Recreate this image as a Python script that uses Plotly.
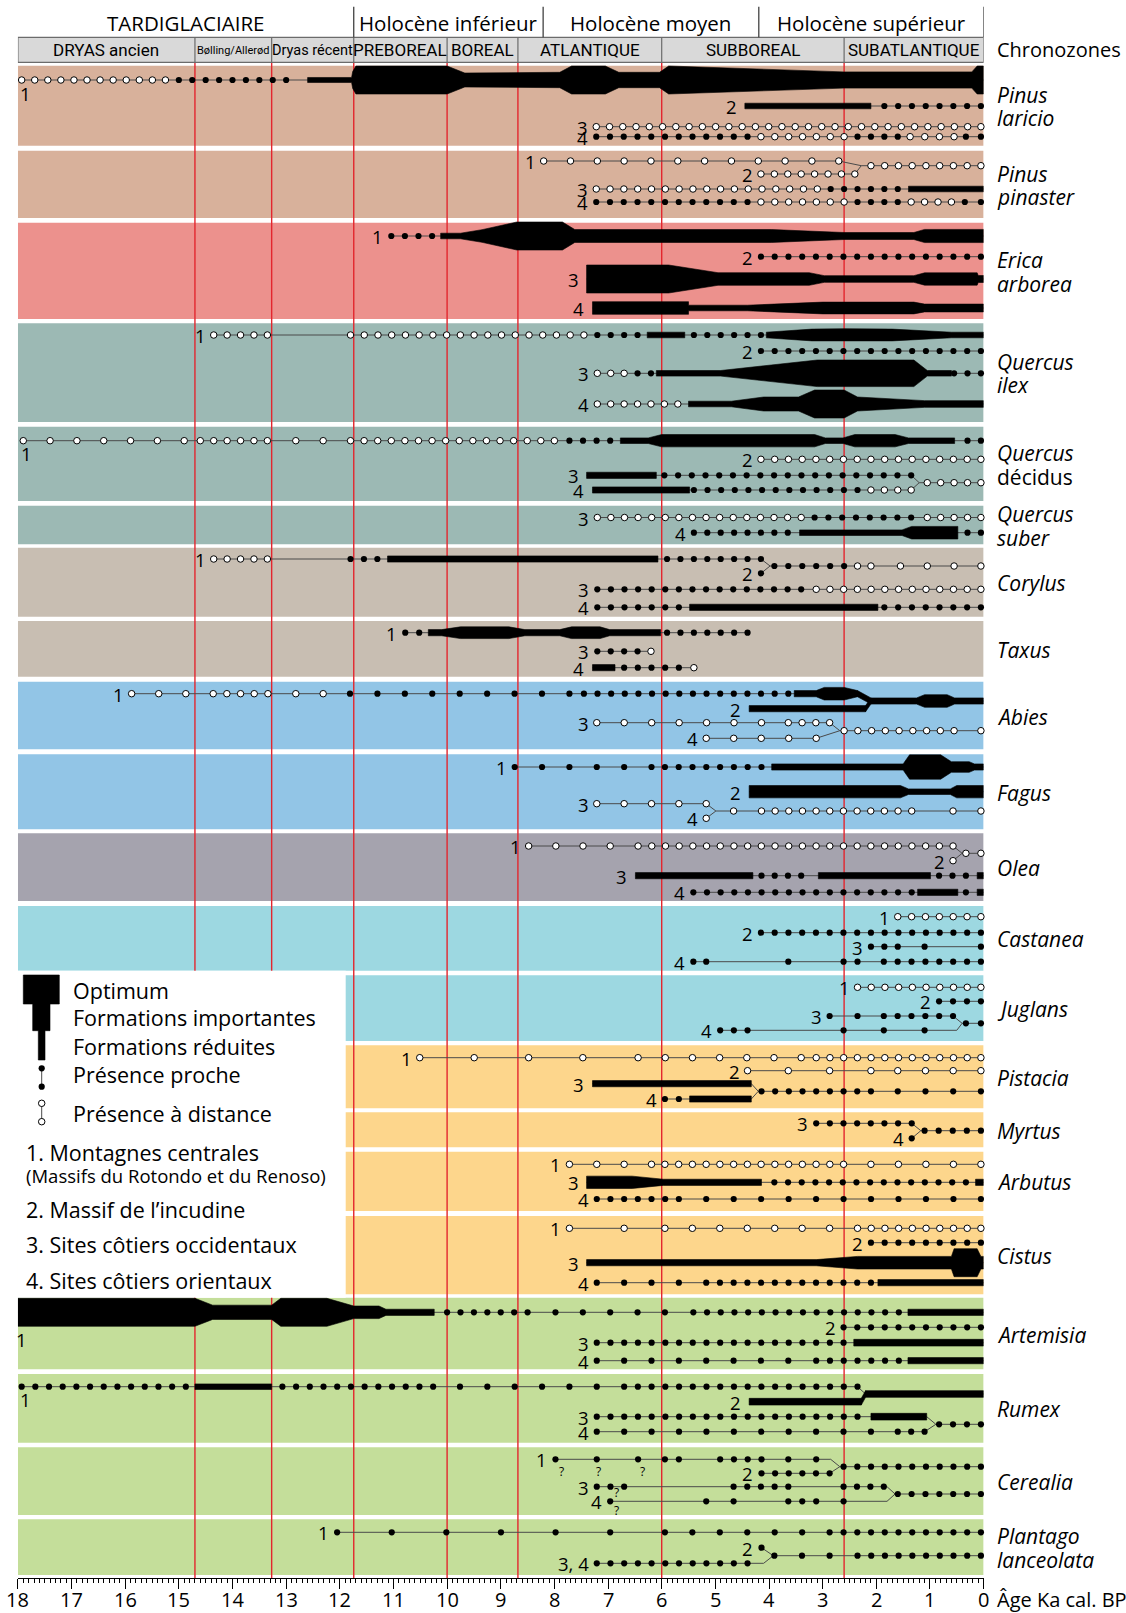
import numpy as np
import plotly.graph_objects as go

# ---------------- chronology (ka cal BP) ----------------
PERIOD_NAMES = ["TARDIGLACIAIRE", "Holocène inférieur", "Holocène moyen", "Holocène supérieur"]
PERIOD_BOUNDS = [18.0, 11.74, 8.21, 4.19, 0.0]
CHRONO_NAMES = ["DRYAS ancien", "Bølling/Allerød", "Dryas récent", "PREBOREAL",
                "BOREAL", "ATLANTIQUE", "SUBBOREAL", "SUBATLANTIQUE"]
CHRONO_BOUNDS = [18.0, 14.7, 13.27, 11.74, 10.0, 8.68, 6.0, 2.6, 0.0]
RED_LINES = [14.7, 13.27, 11.74, 10.0, 8.68, 6.0, 2.6]
AXIS_TICKS = list(range(18, -1, -1))

# ---------------- taxa data ----------------
# elements: ("o", from, to[, step]) presence a distance ; ("d", ...) presence proche
#           ("b", [(ka, abundance 0-10), ...]) formations (reduced .. optimum)
# merges:   (from_track, ka_from, to_track, ka_to, abundance of the link, 0 = thin)
PINUS_LARICIO = [
    ("1", "1", [("o", 17.93, 15.25), ("d", 15.0, 13.0),
                ("b", [(12.6, 1.8), (11.78, 1.8), (11.76, 6), (11.7, 10), (10.0, 10), (9.67, 5),
                       (7.9, 5.5), (7.68, 10), (7.05, 10), (6.8, 5.5), (6.04, 5.5), (5.87, 10),
                       (2.6, 5.8), (0.22, 5.8), (0.12, 10), (0.0, 10)])]),
    ("2", "2", [("b", [(4.45, 2), (2.1, 2)]), ("d", 1.85, 0.05)]),
    ("3", "3", [("o", 7.22, 0.05)]),
    ("4", "4", [("d", 7.22, 4.4), ("o", 4.15, 2.6), ("d", 2.35, 1.6), ("o", 1.37, 0.55), ("d", 0.33, 0.05)]),
]
PINUS_LARICIO_MERGES = []

PINUS_PINASTER = [
    ("1", "1", [("o", 8.2, 2.7, 0.5)]),
    ("2", "2", [("o", 4.15, 2.4)]),
    (None, "12", [("o", 2.1, 0.05)]),
    ("3", "3", [("o", 7.22, 3.1), ("d", 2.85, 1.6), ("b", [(1.4, 2), (0.0, 2)])]),
    ("4", "4", [("d", 7.22, 4.4), ("o", 4.15, 2.6), ("d", 2.35, 1.6), ("o", 1.35, 0.6), ("d", 0.35, 0.05)]),
]
PINUS_PINASTER_MERGES = [("1", 2.7, "12", 2.28, 0), ("2", 2.4, "12", 2.28, 0)]

ERICA = [
    ("1", "1", [("d", 11.04, 10.28),
                ("b", [(10.12, 2), (9.75, 2), (9.35, 4.5), (8.7, 10), (7.85, 10), (7.62, 4.6),
                       (3.95, 4.6), (2.6, 2.5), (1.3, 2.5), (1.1, 4.7), (0.0, 4.7)])]),
    ("2", "2", [("d", 4.15, 0.05)]),
    ("3", "3", [("b", [(7.4, 10), (5.87, 10), (4.95, 4.5), (3.25, 4.5), (2.97, 2.4), (1.3, 2.4),
                       (1.1, 4.4), (0.12, 4.4), (0.1, 2.5), (0.0, 2.5)])]),
    ("4", "4", [("b", [(7.29, 4.5), (5.5, 4.5), (5.5, 2), (4.4, 2), (3.0, 4.2), (1.3, 4.2),
                       (1.1, 2.8), (0.0, 2.8)])]),
]
ERICA_MERGES = []

QUERCUS_ILEX = [
    ("1", "1", [("o", 14.35, 13.35), ("o", 11.8, 7.45), ("d", 7.2, 6.45), ("b", [(6.27, 2), (5.57, 2)]),
                ("d", 5.4, 4.15),
                ("b", [(4.05, 2), (3.2, 4.2), (2.6, 4.5), (1.7, 4.2), (0.6, 2), (0.0, 2)])]),
    ("2", "2", [("d", 4.15, 0.05)]),
    ("3", "3", [("o", 7.2, 6.7), ("d", 6.45, 6.2),
                ("b", [(6.1, 2), (4.9, 2), (3.1, 9.5), (1.3, 9.5), (1.05, 2), (0.6, 2)]),
                ("d", 0.55, 0.05)]),
    ("4", "4", [("o", 7.2, 5.7),
                ("b", [(5.5, 2), (4.7, 2), (4.1, 5), (3.45, 5), (3.15, 10), (2.6, 10), (2.35, 5),
                       (1.1, 2.4), (0.0, 2.4)])]),
]
QUERCUS_ILEX_MERGES = []

QUERCUS_DECIDUS = [
    ("1", "1", [("o", 17.9, 14.9, 0.5), ("o", 14.6, 13.35), ("o", 12.82, 12.31, 0.51), ("o", 11.8, 8.0),
                ("d", 7.72, 6.96),
                ("b", [(6.77, 2), (6.25, 2), (6.0, 4.4), (3.15, 4.4), (2.95, 2), (2.62, 2), (2.4, 4.4),
                       (1.65, 4.4), (1.4, 2), (0.54, 2)]),
                ("d", 0.3, 0.05)]),
    ("2", "2", [("o", 4.15, 0.05)]),
    ("3", "3", [("b", [(7.4, 2.2), (6.1, 2.2)]), ("d", 5.95, 1.35)]),
    ("4", "4", [("b", [(7.29, 2.2), (5.48, 2.2)]), ("d", 5.4, 2.35), ("o", 2.1, 1.35)]),
    (None, "34", [("o", 1.05, 0.05)]),
]
QUERCUS_DECIDUS_MERGES = [("3", 1.35, "34", 1.2, 0), ("4", 1.35, "34", 1.2, 0)]

QUERCUS_SUBER = [
    ("3", "3", [("o", 7.2, 3.4), ("d", 3.15, 1.35), ("o", 1.05, 0.05)]),
    ("4", "4", [("d", 5.4, 3.65), ("b", [(3.43, 2), (1.52, 2), (1.34, 4.5), (0.48, 4.5)]), ("d", 0.3, 0.05)]),
]
QUERCUS_SUBER_MERGES = []

CORYLUS = [
    ("1", "1", [("o", 14.35, 13.35), ("d", 11.8, 11.3), ("b", [(11.11, 2.2), (6.07, 2.2)]), ("d", 5.9, 4.15)]),
    ("2", "2", [("d", 4.15, 4.15)]),
    (None, "12", [("d", 3.9, 2.6), ("o", 2.35, 2.1), ("o", 1.55, 0.05, 0.5)]),
    ("3", "3", [("d", 7.2, 3.4), ("o", 3.12, 0.05)]),
    ("4", "4", [("d", 7.2, 5.68), ("b", [(5.48, 2.2), (1.97, 2.2)]), ("d", 1.85, 0.05)]),
]
CORYLUS_MERGES = [("1", 4.15, "12", 3.98, 0), ("2", 4.15, "12", 3.98, 0)]

TAXUS = [
    ("1", "1", [("d", 10.78, 10.52),
                ("b", [(10.35, 2.2), (10.1, 2.2), (9.75, 4.2), (8.85, 4.2), (8.55, 2.2), (7.9, 2.2),
                       (7.68, 4.2), (7.15, 4.2), (6.97, 2.2), (6.02, 2.2)]),
                ("d", 5.9, 4.4)]),
    ("3", "3", [("d", 7.2, 6.45), ("o", 6.2, 6.2)]),
    ("4", "4", [("b", [(7.29, 2.2), (6.87, 2.2)]), ("d", 6.7, 5.68), ("o", 5.4, 5.4)]),
]
TAXUS_MERGES = []

ABIES = [
    ("1", "1", [("o", 15.88, 14.87, 0.5), ("o", 14.36, 13.34), ("o", 12.82, 12.31, 0.51),
                ("d", 11.81, 7.72, 0.51), ("d", 7.45, 3.64),
                ("b", [(3.53, 2.2), (3.12, 2.2), (2.97, 4.5), (2.6, 4.5), (2.35, 2.2)])]),
    ("2", "2", [("b", [(4.37, 2.2), (2.2, 2.2)])]),
    (None, "12", [("b", [(2.1, 2.2), (1.25, 2.2), (1.1, 4.5), (0.68, 4.5), (0.54, 2.2), (0.0, 2.2)])]),
    ("3", "3", [("o", 7.21, 4.14, 0.51), ("o", 3.64, 2.87)]),
    ("4", "4", [("o", 5.17, 3.12, 0.51)]),
    (None, "34", [("o", 2.6, 0.55), ("o", 0.05, 0.05)]),
]
ABIES_MERGES = [("1", 2.35, "12", 2.1, 2.2), ("2", 2.2, "12", 2.1, 2.2),
                ("3", 2.87, "34", 2.68, 0), ("4", 3.12, "34", 2.68, 0)]

FAGUS = [
    ("1", "1", [("d", 8.74, 6.19, 0.51), ("d", 5.94, 4.14),
                ("b", [(3.95, 2.2), (1.5, 2.2), (1.38, 8.7), (0.8, 8.7), (0.6, 3.8), (0.27, 3.8),
                       (0.17, 2.2), (0.0, 2.2)])]),
    ("2", "2", [("b", [(4.37, 4.4), (1.55, 4.4), (1.4, 2), (0.62, 2), (0.5, 4.4), (0.0, 4.4)])]),
    ("3", "3", [("o", 7.21, 5.17, 0.51)]),
    ("4", "4", [("o", 5.17, 5.17)]),
    (None, "34", [("o", 4.66, 4.66), ("o", 4.14, 1.34), ("o", 0.57, 0.05, 0.52)]),
]
FAGUS_MERGES = [("3", 5.17, "34", 4.99, 0), ("4", 5.17, "34", 4.99, 0)]

OLEA = [
    ("1", "1", [("o", 8.48, 6.96, 0.5), ("o", 6.44, 0.57)]),
    ("2", "2", [("o", 0.57, 0.57)]),
    (None, "12", [("o", 0.33, 0.05)]),
    ("3", "3", [("b", [(6.49, 2.2), (4.3, 2.2)]), ("d", 4.14, 3.4), ("b", [(3.08, 2.2), (0.99, 2.2)]),
                ("d", 0.83, 0.33), ("b", [(0.12, 2.2), (0.0, 2.2)])]),
    ("4", "4", [("d", 5.41, 1.34), ("b", [(1.23, 2.2), (0.48, 2.2)]), ("d", 0.33, 0.33),
                ("b", [(0.12, 2.2), (0.0, 2.2)])]),
]
OLEA_MERGES = [("1", 0.57, "12", 0.4, 0), ("2", 0.57, "12", 0.4, 0)]

CASTANEA = [
    ("1", "1", [("o", 1.6, 0.05)]),
    ("2", "2", [("d", 4.15, 0.05)]),
    ("3", "3", [("d", 2.1, 1.6), ("d", 1.1, 1.1), ("d", 0.05, 0.05)]),
    ("4", "4", [("d", 5.41, 5.17), ("d", 3.64, 3.64), ("d", 2.61, 2.35), ("d", 1.86, 0.05)]),
]
CASTANEA_MERGES = []

JUGLANS = [
    ("1", "1", [("o", 2.35, 0.05)]),
    ("2", "2", [("d", 0.83, 0.05)]),
    ("3", "3", [("d", 2.87, 2.87), ("d", 2.35, 2.35), ("d", 1.86, 0.57)]),
    ("4", "4", [("d", 4.91, 4.4), ("d", 2.61, 2.61), ("d", 1.86, 1.86), ("d", 1.1, 1.1)]),
    (None, "34", [("d", 0.33, 0.05)]),
]
JUGLANS_MERGES = [("3", 0.57, "34", 0.4, 0), ("4", 0.5, "34", 0.4, 0)]

PISTACIA = [
    ("1", "1", [("o", 10.51, 8.48, 1.0), ("o", 7.47, 7.47), ("o", 6.44, 3.4, 0.5), ("o", 3.12, 0.05)]),
    ("2", "2", [("o", 4.4, 4.4), ("o", 3.64, 2.1, 0.77), ("o", 1.6, 0.05, 0.52)]),
    ("3", "3", [("b", [(7.29, 2.2), (4.33, 2.2)])]),
    ("4", "4", [("d", 5.94, 5.68), ("b", [(5.48, 2.2), (4.33, 2.2)])]),
    (None, "34", [("d", 4.14, 2.1), ("d", 1.6, 0.05, 0.52)]),
]
PISTACIA_MERGES = [("3", 4.33, "34", 4.2, 0), ("4", 4.33, "34", 4.2, 0)]

MYRTUS = [
    ("3", "3", [("d", 3.12, 1.34)]),
    ("4", "4", [("d", 1.34, 1.34)]),
    (None, "34", [("d", 1.1, 0.05)]),
]
MYRTUS_MERGES = [("3", 1.34, "34", 1.17, 0), ("4", 1.34, "34", 1.17, 0)]

ARBUTUS = [
    ("1", "1", [("o", 7.72, 6.19, 0.51), ("o", 5.94, 2.61), ("o", 2.1, 0.05, 0.51)]),
    ("3", "3", [("b", [(7.4, 4.4), (6.55, 4.4), (5.97, 2.2), (4.14, 2.2)]), ("d", 3.9, 0.33),
                ("b", [(0.15, 2.2), (0.0, 2.2)])]),
    ("4", "4", [("d", 7.21, 5.68), ("d", 5.17, 0.05, 0.512)]),
]
ARBUTUS_MERGES = []

CISTUS = [
    ("1", "1", [("o", 7.72, 7.72), ("o", 6.7, 6.7), ("o", 5.94, 2.87, 0.51), ("o", 2.35, 0.05)]),
    ("2", "2", [("d", 2.1, 0.05)]),
    ("3", "3", [("b", [(7.4, 2.2), (3.12, 2.2), (2.35, 4.5), (0.6, 4.5), (0.55, 10), (0.12, 10),
                       (0.05, 4.5), (0.0, 4.5)])]),
    ("4", "4", [("d", 7.21, 5.68, 0.51), ("d", 5.17, 2.1), ("b", [(1.97, 2.2), (0.0, 2.2)])]),
]
CISTUS_MERGES = []

ARTEMISIA = [
    ("1", "1", [("b", [(18.0, 10), (14.7, 10), (14.37, 5.1), (13.27, 5.1), (13.1, 10), (12.24, 10),
                       (11.74, 4.5), (11.27, 4.5), (11.14, 2.2), (10.24, 2.2)]),
                ("d", 10.0, 8.5), ("d", 7.98, 5.94, 0.51), ("d", 5.41, 1.58),
                ("b", [(1.41, 2.2), (0.0, 2.2)])]),
    ("2", "2", [("d", 2.61, 0.05)]),
    ("3", "3", [("d", 7.21, 2.61), ("b", [(2.42, 2.4), (0.0, 2.4)])]),
    ("4", "4", [("d", 7.21, 3.64, 0.51), ("d", 3.12, 1.58), ("b", [(1.41, 2.2), (0.0, 2.2)])]),
]
ARTEMISIA_MERGES = []

RUMEX = [
    ("1", "1", [("d", 17.93, 14.87), ("b", [(14.7, 2), (13.27, 2)]), ("d", 13.07, 10.26),
                ("d", 9.76, 7.21, 0.51), ("d", 6.7, 2.35)]),
    ("2", "2", [("b", [(4.37, 2.4), (2.28, 2.4)])]),
    (None, "12", [("b", [(2.2, 2.4), (0.0, 2.4)])]),
    ("3", "3", [("d", 7.21, 2.35), ("b", [(2.1, 2.4), (1.06, 2.4)])]),
    ("4", "4", [("d", 7.21, 2.1, 0.51), ("d", 1.6, 1.1)]),
    (None, "34", [("d", 0.83, 0.05)]),
]
RUMEX_MERGES = [("1", 2.35, "12", 2.2, 0), ("2", 2.28, "12", 2.2, 2.4),
                ("3", 1.06, "34", 0.89, 0), ("4", 1.1, "34", 0.89, 0)]

CEREALIA = [
    ("1", "1", [("d", 7.98, 7.98), ("d", 7.21, 7.21), ("d", 6.44, 6.44), ("d", 5.94, 5.68),
                ("d", 4.91, 4.14), ("d", 3.64, 3.64), ("d", 3.12, 3.12)]),
    ("2", "2", [("d", 4.14, 2.87)]),
    (None, "12", [("d", 2.61, 0.05)]),
    ("3", "3", [("d", 7.21, 6.7), ("d", 4.66, 3.64), ("d", 2.61, 1.86)]),
    ("4", "4", [("d", 6.96, 6.96), ("d", 5.17, 5.17), ("d", 4.66, 4.66), ("d", 3.64, 3.12), ("d", 2.61, 2.61)]),
    (None, "34", [("d", 1.6, 0.05)]),
]
CEREALIA_MERGES = [("1", 2.85, "12", 2.68, 0), ("2", 2.87, "12", 2.68, 0),
                   ("3", 1.8, "34", 1.65, 0), ("4", 1.8, "34", 1.65, 0)]
CEREALIA_QMARK_KA = [7.86, 7.17, 6.35, 6.84, 6.84]

PLANTAGO = [
    ("1", "1", [("d", 12.05, 6.96, 1.02), ("d", 5.94, 2.87, 0.51), ("d", 2.61, 0.05)]),
    ("2", "2", [("d", 4.14, 4.14)]),
    ("3, 4", "34", [("d", 7.21, 4.4)]),
    (None, "m", [("d", 3.9, 2.87, 0.515), ("d", 2.35, 0.05)]),
]
PLANTAGO_MERGES = [("2", 4.14, "m", 3.92, 0), ("34", 4.1, "m", 3.92, 0)]

TAXA_NAMES = [["<i>Pinus</i>", "<i>laricio</i>"], ["<i>Pinus</i>", "<i>pinaster</i>"],
              ["<i>Erica</i>", "<i>arborea</i>"], ["<i>Quercus</i>", "<i>ilex</i>"],
              ["<i>Quercus</i>", "décidus"], ["<i>Quercus</i>", "<i>suber</i>"], ["<i>Corylus</i>"],
              ["<i>Taxus</i>"], ["<i>Abies</i>"], ["<i>Fagus</i>"], ["<i>Olea</i>"], ["<i>Castanea</i>"],
              ["<i>Juglans</i>"], ["<i>Pistacia</i>"], ["<i>Myrtus</i>"], ["<i>Arbutus</i>"], ["<i>Cistus</i>"],
              ["<i>Artemisia</i>"], ["<i>Rumex</i>"], ["<i>Cerealia</i>"], ["<i>Plantago</i>", "<i>lanceolata</i>"]]
TAXA_TRACKS = [PINUS_LARICIO, PINUS_PINASTER, ERICA, QUERCUS_ILEX, QUERCUS_DECIDUS, QUERCUS_SUBER,
               CORYLUS, TAXUS, ABIES, FAGUS, OLEA, CASTANEA, JUGLANS, PISTACIA, MYRTUS, ARBUTUS,
               CISTUS, ARTEMISIA, RUMEX, CEREALIA, PLANTAGO]
TAXA_MERGES = [PINUS_LARICIO_MERGES, PINUS_PINASTER_MERGES, ERICA_MERGES, QUERCUS_ILEX_MERGES,
               QUERCUS_DECIDUS_MERGES, QUERCUS_SUBER_MERGES, CORYLUS_MERGES, TAXUS_MERGES,
               ABIES_MERGES, FAGUS_MERGES, OLEA_MERGES, CASTANEA_MERGES, JUGLANS_MERGES,
               PISTACIA_MERGES, MYRTUS_MERGES, ARBUTUS_MERGES, CISTUS_MERGES, ARTEMISIA_MERGES,
               RUMEX_MERGES, CEREALIA_MERGES, PLANTAGO_MERGES]

LEGEND_SYMBOLS = ["Optimum", "Formations importantes", "Formations réduites",
                  "Présence proche", "Présence à distance"]
LEGEND_SITES = ["1. Montagnes centrales", "(Massifs du Rotondo et du Renoso)",
                "2. Massif de l\u2019incudine", "3. Sites côtiers occidentaux", "4. Sites côtiers orientaux"]

# ---------------- layout (page pixels) ----------------
W, H = 1126, 1613
X_LEFT_PX, X_RIGHT_PX = 17.9, 983.6
AXIS_Y = 1578.3
PX_PER_KA = (X_RIGHT_PX - X_LEFT_PX) / 18.0
def px2ka(px):
    return (X_RIGHT_PX - px) / PX_PER_KA

BANDS = [(65.7, 145.7), (150.7, 218.0), (222.7, 319.0), (323.3, 422.0), (426.7, 501.0),
         (505.7, 544.3), (547.7, 616.7), (621.0, 676.7), (681.7, 749.3), (754.3, 829.3),
         (833.3, 901.0), (906.0, 970.7), (975.3, 1041.0), (1045.3, 1108.3), (1112.3, 1147.3),
         (1151.7, 1211.0), (1216.0, 1294.3), (1297.8, 1369.3), (1374.0, 1442.7), (1447.3, 1515.0),
         (1519.3, 1575.0)]
SLOTS = [
    {"1": 80, "2": 106, "3": 126.7, "4": 136.7},
    {"1": 161, "2": 174, "12": 165.7, "3": 189, "4": 202},
    {"1": 236, "2": 256.7, "3": 279, "4": 308},
    {"1": 335, "2": 351, "3": 373.3, "4": 404},
    {"1": 440.7, "2": 459.3, "3": 475.3, "4": 490, "34": 482.7},
    {"3": 517.5, "4": 532.7},
    {"1": 559, "2": 573.3, "12": 566, "3": 589.3, "4": 607.3},
    {"1": 632.7, "3": 651.3, "4": 667.7},
    {"1": 693.7, "2": 708.7, "12": 701, "3": 722.7, "4": 738.3, "34": 730.7},
    {"1": 767, "2": 791.7, "3": 803.7, "4": 818.3, "34": 811},
    {"1": 846, "2": 860.7, "12": 853.3, "3": 875.7, "4": 892.3},
    {"1": 916.7, "2": 932.7, "3": 946.7, "4": 961.7},
    {"1": 987.3, "2": 1001.3, "3": 1016, "4": 1030.3, "34": 1023.3},
    {"1": 1057.7, "2": 1070.7, "3": 1083.7, "4": 1099, "34": 1091.3},
    {"3": 1123.3, "4": 1138.3, "34": 1130.7},
    {"1": 1164.3, "3": 1182.3, "4": 1199},
    {"1": 1228.3, "2": 1242.7, "3": 1262.7, "4": 1282.7},
    {"1": 1312.3, "2": 1327.3, "3": 1342.7, "4": 1360.7},
    {"1": 1386.7, "2": 1401.7, "12": 1394, "3": 1416.7, "4": 1431.7, "34": 1424.3},
    {"1": 1459.3, "2": 1473.3, "12": 1466.7, "3": 1486.7, "4": 1501.3, "34": 1494},
    {"1": 1532.3, "2": 1547.7, "34": 1563.3, "m": 1555.7},
]
QMARK_POS = [("1", 12.5), ("1", 12.5), ("1", 12.5), ("4", -8.5), ("4", 9)]
C_PINUS, C_ERICA, C_QUERC, C_CORY = "#D8B19B", "#EC918D", "#9CB9B4", "#C8BEB2"
C_ABIES, C_OLEA, C_CAST, C_MEDIT, C_HERB = "#92C5E6", "#A5A3AE", "#9DD8E1", "#FDD68C", "#C4DE9A"
BAND_COLORS = [C_PINUS, C_PINUS, C_ERICA, C_QUERC, C_QUERC, C_QUERC, C_CORY, C_CORY, C_ABIES, C_ABIES,
               C_OLEA, C_CAST, C_CAST, C_MEDIT, C_MEDIT, C_MEDIT, C_MEDIT, C_HERB, C_HERB, C_HERB, C_HERB]
LEGEND_BOX = (px2ka(345.7), 970.7, 1297.8)   # ka right edge, top, bottom
HALF = 1.4          # px of half-thickness per abundance unit
FONT = "'Open Sans', sans-serif"
NARROW = "'Liberation Sans Narrow', 'Arial Narrow', 'Roboto', sans-serif"
RED = "#E3262E"
LINE_GREY = "#4a4a4a"
RIGHT_TEXT_X = 995 / W   # paper fraction for right-hand texts
NAME_LINE_GAP = 23.4
TICK_LABEL_Y_PAPER = (H - 1599) / H   # page y 1599 px, as paper fraction


def seq(a, b, step):
    n = int(round(abs(a - b) / step)) + 1
    return list(np.linspace(a, b, n)) if n > 1 else [a]


line_x, line_y = [], []
poly_x, poly_y = [], []
fd_x, fd_y = [], []
od_x, od_y = [], []
annotations = []


def add_poly(xs, ys):
    poly_x.extend(xs + [xs[0], None])
    poly_y.extend(ys + [ys[0], None])


def add_profile(prof, y):
    xs = [p[0] for p in prof] + [p[0] for p in prof[::-1]]
    ys = [y - p[1] * HALF for p in prof] + [y + p[1] * HALF for p in prof[::-1]]
    add_poly(xs, ys)


def text(x, y, s, size, xanchor="center", family=FONT, xshift=0, xref="x", yref="y"):
    annotations.append(dict(x=x, y=y, xref=xref, yref=yref, text=s, showarrow=False,
                            xanchor=xanchor, yanchor="middle", xshift=xshift,
                            font=dict(family=family, size=size, color="black")))


for ti, (tracks, merges) in enumerate(zip(TAXA_TRACKS, TAXA_MERGES)):
    slots = SLOTS[ti]
    ext, first_bar = {}, {}
    for label, slot, elems in tracks:
        y = slots[slot]
        kas = []
        for el in elems:
            if el[0] in ("o", "d"):
                step = el[3] if len(el) > 3 else 0.25
                pos = seq(el[1], el[2], step)
                kas += pos
                if el[0] == "o":
                    od_x.extend(pos); od_y.extend([y] * len(pos))
                else:
                    fd_x.extend(pos); fd_y.extend([y] * len(pos))
            else:
                prof = el[1]
                kas += [p[0] for p in prof]
                add_profile(prof, y)
                first_bar.setdefault(slot, prof[0])
        ext[slot] = [max(kas), min(kas)]
    for s_from, k_from, s_to, k_to, lvl in merges:
        ext[s_from][0] = max(ext[s_from][0], k_from)
        ext[s_from][1] = min(ext[s_from][1], k_from)
        ext[s_to][0] = max(ext[s_to][0], k_to)
        y1, y2 = slots[s_from], slots[s_to]
        if lvl:
            h = lvl * HALF
            add_poly([k_from, k_to, k_to, k_from], [y1 - h, y2 - h, y2 + h, y1 + h])
        line_x.extend([k_from, k_to, None]); line_y.extend([y1, y2, None])
    for slot, (a, b) in ext.items():
        line_x.extend([a, b, None]); line_y.extend([slots[slot], slots[slot], None])
    for label, slot, elems in tracks:
        if label is None:
            continue
        start, y = ext[slot][0], slots[slot]
        if start >= 17.9:
            fb = first_bar.get(slot)
            off = 13 + (fb[1] * HALF if fb and fb[0] >= 17.9 else 0)
            text(start, y + off, label, 18.5, xanchor="left", xshift=-4)
        else:
            text(start, y + 0.5, label, 18.5, xanchor="right", xshift=-6)
    # taxon name (one annotation per line)
    top, bot = BANDS[ti]
    lines = TAXA_NAMES[ti]
    mid = (top + bot) / 2 + 1
    for li, s in enumerate(lines):
        yy = mid + (li - (len(lines) - 1) / 2) * NAME_LINE_GAP
        text(RIGHT_TEXT_X, yy, s, 21, xanchor="left", xref="paper")

# Cerealia question marks
for ka, (slot, dy) in zip(CEREALIA_QMARK_KA, QMARK_POS):
    text(ka, SLOTS[19][slot] + dy, "?", 12)

# ---------------- legend symbols ----------------
lx = [px2ka(v) for v in (23.3, 59.3, 59.3, 50, 50, 45, 45, 38.3, 38.3, 32.7, 32.7, 23.3)]
ly = [975, 975, 1004, 1004, 1030.7, 1030.7, 1060, 1060, 1030.7, 1030.7, 1004, 1004]
add_poly(lx, ly)
lgx = px2ka(41.7)
line_x.extend([lgx, lgx, None, lgx, lgx, None]); line_y.extend([1068.3, 1086.7, None, 1103.3, 1121.7, None])
fd_x.extend([lgx, lgx]); fd_y.extend([1068.3, 1086.7])
od_x.extend([lgx, lgx]); od_y.extend([1103.3, 1121.7])
for s, yy in zip(LEGEND_SYMBOLS, [990, 1017, 1046, 1074, 1113]):
    text(px2ka(71.4), yy, s, 21.5, xanchor="left")
for s, yy, sz in zip(LEGEND_SITES, [1152.7, 1175, 1209, 1244, 1280], [21.5, 18.5, 21.5, 21.5, 21.5]):
    text(px2ka(23.5), yy, s, sz, xanchor="left")

# ---------------- header ----------------
for i, name in enumerate(PERIOD_NAMES):
    text((PERIOD_BOUNDS[i] + PERIOD_BOUNDS[i + 1]) / 2, 23, name, 20.5)
CHRONO_SIZES = [17, 11, 14.5, 17, 17, 17, 17, 17]
for i, name in enumerate(CHRONO_NAMES):
    text((CHRONO_BOUNDS[i] + CHRONO_BOUNDS[i + 1]) / 2, 50, name, CHRONO_SIZES[i], family=NARROW)
text(RIGHT_TEXT_X, 49.5, "Chronozones", 20, xanchor="left", xref="paper")
text(RIGHT_TEXT_X, TICK_LABEL_Y_PAPER, "Âge Ka cal. BP", 20, xanchor="left", xref="paper", yref="paper")
# axis tick labels (placed on the x scale, below the axis line)
for t in AXIS_TICKS:
    text(t, TICK_LABEL_Y_PAPER, str(t), 20, yref="paper")

# ---------------- shapes ----------------
shapes = []
for (top, bot), col in zip(BANDS, BAND_COLORS):
    shapes.append(dict(type="rect", xref="x", yref="y", x0=18, x1=0, y0=top, y1=bot,
                       fillcolor=col, line=dict(width=0), layer="below"))
for k in RED_LINES:
    shapes.append(dict(type="line", xref="x", yref="y", x0=k, x1=k, y0=62.3, y1=AXIS_Y,
                       line=dict(color=RED, width=1.4), layer="below"))
shapes.append(dict(type="rect", xref="x", yref="y", x0=18.3, x1=LEGEND_BOX[0], y0=LEGEND_BOX[1],
                   y1=LEGEND_BOX[2], fillcolor="white", line=dict(width=0), layer="below"))
shapes.append(dict(type="rect", xref="x", yref="y", x0=18, x1=0, y0=37.3, y1=62.3,
                   fillcolor="#D9D9D9", line=dict(color="#6b6b6b", width=1.2), layer="below"))
for k in CHRONO_BOUNDS[1:-1]:
    shapes.append(dict(type="line", xref="x", yref="y", x0=k, x1=k, y0=37.3, y1=62.3,
                       line=dict(color="#6b6b6b", width=1.2), layer="below"))
for k in PERIOD_BOUNDS[1:]:
    shapes.append(dict(type="line", xref="x", yref="y", x0=k, x1=k, y0=6.7, y1=37.3,
                       line=dict(color="#333333", width=1.2), layer="below"))

# ---------------- traces ----------------
fig = go.Figure()
fig.add_trace(go.Scatter(x=line_x, y=line_y, mode="lines", line=dict(color=LINE_GREY, width=1),
                         hoverinfo="skip", cliponaxis=False))
fig.add_trace(go.Scatter(x=poly_x, y=poly_y, mode="lines", fill="toself", fillcolor="black",
                         line=dict(color="black", width=0.6), hoverinfo="skip", cliponaxis=False))
fig.add_trace(go.Scatter(x=fd_x, y=fd_y, mode="markers", cliponaxis=False, hoverinfo="skip",
                         marker=dict(color="black", size=6.2, line=dict(width=0))))
fig.add_trace(go.Scatter(x=od_x, y=od_y, mode="markers", cliponaxis=False, hoverinfo="skip",
                         marker=dict(color="white", size=6.5, line=dict(color="black", width=1))))

fig.update_layout(
    width=W, height=H, margin=dict(l=0, r=0, t=0, b=0, autoexpand=False), showlegend=False,
    paper_bgcolor="white", plot_bgcolor="white",
    shapes=shapes, annotations=annotations,
    xaxis=dict(domain=[X_LEFT_PX / W, X_RIGHT_PX / W], range=[18, 0], showgrid=False, zeroline=False,
               automargin=False, showticklabels=False,
               showline=True, linecolor="black", linewidth=1, ticks="outside", ticklen=10,
               tickcolor="black", tickwidth=1, tickvals=AXIS_TICKS,
               minor=dict(dtick=0.1, ticks="outside", ticklen=4, tickcolor="black", tickwidth=0.8)),
    yaxis=dict(domain=[(H - AXIS_Y) / H, 1], range=[AXIS_Y, 0], visible=False, showgrid=False,
               automargin=False),
)

fig.write_html("out.html", config={"displayModeBar": False},
               post_script="document.body.style.margin='0';")
